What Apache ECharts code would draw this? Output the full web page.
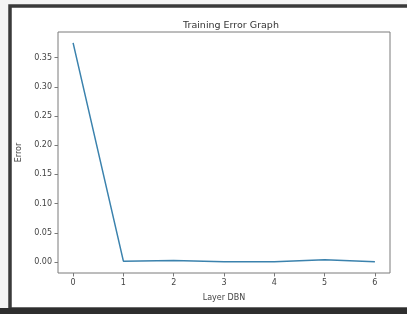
<!DOCTYPE html>
<html>
<head>
<meta charset="utf-8">
<script src="https://cdn.jsdelivr.net/npm/echarts@6/dist/echarts.min.js"></script>
<style>
  html, body { margin: 0; padding: 0; background: #f4f4f4; }
  #chart { width: 407px; height: 314px; }
</style>
</head>
<body>
<div id="chart"></div>
<script>
// Layer index and training error per layer
const layers = [0, 1, 2, 3, 4, 5, 6];
const errors = [0.375, 0.0015, 0.0025, 0.0005, 0.0005, 0.004, 0.0005];
const yTicks = [0, 0.05, 0.10, 0.15, 0.20, 0.25, 0.30, 0.35];
const xTicks = [0, 1, 2, 3, 4, 5, 6];

const chart = echarts.init(document.getElementById('chart'));

const axisColor = '#7a7a7a';
const textColor = '#444';

const option = {
  backgroundColor: '#f4f4f4',
  animation: false,
  graphic: [
    // white sheet with dark frame around the figure
    {
      type: 'rect',
      shape: { x: 10, y: 6, width: 420, height: 303 },
      style: { fill: '#ffffff', stroke: '#3a3a3a', lineWidth: 3.5 },
      z: -10
    },
    {
      type: 'rect',
      shape: { x: 0, y: 308, width: 407, height: 6 },
      style: { fill: '#2e2e2e' },
      z: -9
    }
  ],
  title: {
    text: 'Training Error Graph',
    left: 226,
    top: 16,
    textAlign: 'center',
    textStyle: { fontFamily: 'DejaVu Sans', fontSize: 9.5, fontWeight: 'normal', color: '#333' }
  },
  grid: {
    left: 58, right: 17, top: 32, bottom: 41,
    show: true,
    borderColor: axisColor,
    borderWidth: 1,
    backgroundColor: '#ffffff'
  },
  xAxis: {
    type: 'value',
    min: -0.3,
    max: 6.3,
    name: 'Layer DBN',
    nameLocation: 'middle',
    nameGap: 21,
    nameTextStyle: { fontFamily: 'DejaVu Sans', fontSize: 8, color: textColor },
    axisLine: { show: false, onZero: false },
    splitLine: { show: false },
    axisTick: { show: true, customValues: xTicks, length: 3.5, lineStyle: { color: axisColor } },
    axisLabel: {
      customValues: xTicks,
      margin: 6,
      fontFamily: 'DejaVu Sans',
      fontSize: 8,
      color: textColor
    }
  },
  yAxis: {
    type: 'value',
    min: -0.0187,
    max: 0.3937,
    name: 'Error',
    nameLocation: 'middle',
    nameGap: 33,
    nameTextStyle: { fontFamily: 'DejaVu Sans', fontSize: 8, color: textColor },
    axisLine: { show: false, onZero: false },
    splitLine: { show: false },
    axisTick: { show: true, customValues: yTicks, length: 3.5, lineStyle: { color: axisColor } },
    axisLabel: {
      customValues: yTicks,
      margin: 6,
      fontFamily: 'DejaVu Sans',
      fontSize: 8,
      color: textColor,
      formatter: v => v.toFixed(2)
    }
  },
  series: [{
    type: 'line',
    data: layers.map((x, i) => [x, errors[i]]),
    showSymbol: false,
    lineStyle: { color: '#3b82ad', width: 1.5 }
  }]
};

chart.setOption(option);
</script>
</body>
</html>
